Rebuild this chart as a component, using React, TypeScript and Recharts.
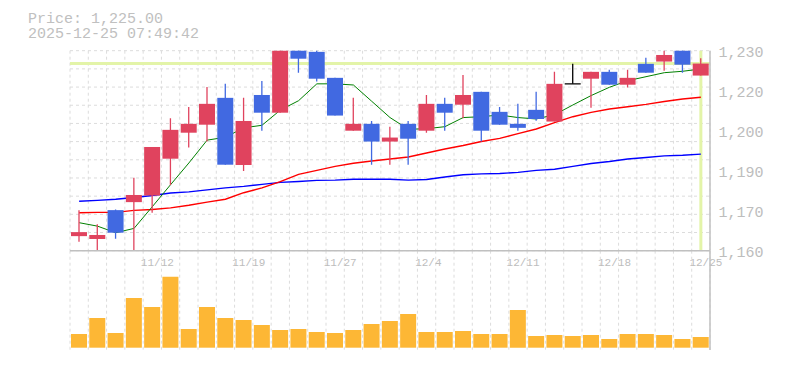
import React from "react";
import { Bar, BarChart, CartesianGrid, ComposedChart, Line, ReferenceLine, XAxis, YAxis } from "recharts";

// trading days shown in the window
const dates = [
  "11/6", "11/7", "11/10", "11/11", "11/12", "11/13", "11/14", "11/17", "11/18", "11/19",
  "11/20", "11/21", "11/25", "11/26", "11/27", "11/28", "12/1", "12/2", "12/3", "12/4",
  "12/5", "12/8", "12/9", "12/10", "12/11", "12/12", "12/15", "12/16", "12/17", "12/18",
  "12/19", "12/22", "12/23", "12/24", "12/25",
];

const opens = [
  1164.6, 1163.6, 1173.7, 1176.5, 1178.8, 1191.7, 1200.8, 1203.6, 1213.0, 1189.5,
  1214.0, 1207.8, 1229.8, 1229.1, 1220.0, 1201.5, 1203.9, 1197.7, 1203.9, 1201.5,
  1210.9, 1210.6, 1215.1, 1208.1, 1203.9, 1208.8, 1204.7, 1217.9, 1219.7, 1222.1,
  1217.6, 1224.9, 1225.7, 1230.8, 1220.8,
];
const highs = [
  1173.7, 1168.8, 1173.9, 1185.0, 1195.8, 1205.9, 1209.8, 1216.8, 1217.9, 1213.0,
  1218.9, 1229.8, 1229.8, 1229.7, 1220.0, 1213.0, 1204.9, 1202.9, 1204.9, 1214.0,
  1213.0, 1221.0, 1215.1, 1209.8, 1210.9, 1215.1, 1222.1, 1224.9, 1222.1, 1222.8,
  1222.8, 1227.0, 1229.8, 1230.8, 1226.9,
];
const lows = [
  1162.6, 1159.5, 1163.7, 1159.5, 1172.8, 1182.5, 1195.6, 1197.7, 1189.6, 1187.4,
  1201.5, 1207.8, 1221.8, 1218.7, 1206.8, 1201.5, 1189.6, 1189.6, 1189.6, 1200.8,
  1201.5, 1205.9, 1197.7, 1203.6, 1201.5, 1205.0, 1204.7, 1217.9, 1209.5, 1217.6,
  1216.6, 1221.8, 1222.5, 1221.8, 1220.8,
];
const closes = [
  1166.0, 1165.0, 1165.8, 1179.0, 1195.8, 1201.8, 1203.9, 1210.9, 1189.6, 1204.9,
  1207.8, 1229.8, 1226.7, 1219.7, 1206.8, 1203.9, 1197.7, 1199.1, 1198.7, 1210.9,
  1207.8, 1214.0, 1201.5, 1203.6, 1202.5, 1205.6, 1217.9, 1217.9, 1222.1, 1217.6,
  1220.0, 1221.8, 1228.0, 1224.6, 1225.0,
];

// moving averages (short / mid / long)
const ma5 = [
  1169.3, 1168.1, 1165.8, 1167.3, 1174.9, 1182.6, 1190.2, 1198.2, 1199.2, 1202.5,
  1203.4, 1208.7, 1212.0, 1217.9, 1217.9, 1217.5, 1211.8, 1206.1, 1202.0, 1202.2,
  1202.9, 1206.1, 1206.4, 1207.0, 1206.1, 1205.6, 1207.1, 1210.5, 1213.8, 1216.7,
  1219.0, 1220.4, 1221.8, 1222.3, 1223.1,
];
const ma25 = [
  1172.8, 1172.9, 1172.9, 1173.6, 1173.9, 1174.5, 1175.4, 1176.5, 1177.5, 1179.8,
  1181.5, 1183.7, 1186.2, 1187.6, 1189.0, 1190.1, 1190.9, 1191.6, 1192.3, 1193.7,
  1195.1, 1196.3, 1197.7, 1198.8, 1200.5, 1202.1, 1204.3, 1206.4, 1207.9, 1209.1,
  1209.9, 1210.7, 1211.7, 1212.6, 1213.2,
];
const ma75 = [
  1176.8, 1177.1, 1177.5, 1178.1, 1178.8, 1179.7, 1180.1, 1180.8, 1181.5, 1182.0,
  1182.7, 1183.4, 1183.7, 1184.1, 1184.2, 1184.5, 1184.5, 1184.5, 1184.2, 1184.4,
  1185.3, 1186.1, 1186.4, 1186.5, 1186.9, 1187.6, 1188.0, 1189.0, 1190.0, 1190.7,
  1191.6, 1192.1, 1192.7, 1192.9, 1193.3,
];

const volumes = [
  137, 297, 147, 497, 407, 710, 187, 407, 297, 277,
  227, 177, 187, 157, 147, 177, 237, 267, 337, 157,
  157, 167, 137, 137, 377, 117, 127, 117, 127, 87,
  137, 137, 127, 87, 107,
];

const xTicks = ["11/12", "11/19", "11/27", "12/4", "12/11", "12/18", "12/25"];
const priceTicks = [1159.5, 1173.5, 1187.5, 1201.5, 1215.5, 1229.5];
const priceDomain = [1159.5, 1229.5];
const volumeDomain = [-23, 970];

const lastClose = closes[closes.length - 1];
const lastDate = dates[dates.length - 1];

// layout
const W = 785;
const PLOT_L = 70;
const PLOT_R = 710;
const PLOT_T = 50.7;
const PLOT_B = 250.7;
const VOL_B = 350;
const BAND = (PLOT_R - PLOT_L) / dates.length;

const FONT = "'Liberation Mono', 'DejaVu Sans Mono', monospace";
const UP = "#E0435E";
const DOWN = "#4169E1";
const LIME = "#E3F4A8";
const GRID = "#dcdcdc";
const AXIS = "#c0c0c0";

const rows = dates.map((date, i) => ({
  date,
  open: opens[i],
  high: highs[i],
  low: lows[i],
  close: closes[i],
  ma5: ma5[i],
  ma25: ma25[i],
  ma75: ma75[i],
  volume: volumes[i],
}));

const verticalPoints = Array.from({ length: dates.length + 1 }, (_, i) => PLOT_L + i * BAND);
const horizontalPoints = Array.from({ length: 12 }, (_, i) => PLOT_T + (i * (PLOT_B - PLOT_T)) / 11);

const formatPrice = (v: number) => (Math.round(v / 10) * 10).toLocaleString("en-US");

const Candle = (props: any) => {
  const { x, y, width, height, payload } = props;
  if (!payload) return null;
  const top = Math.min(y, y + height);
  const h = Math.abs(height);
  const range = payload.high - payload.low;
  const ppu = range > 0 ? h / range : 0;
  const toY = (v: number) => top + (payload.high - v) * ppu;
  const cx = x + width / 2;
  const yo = toY(payload.open);
  const yc = toY(payload.close);
  const color = payload.close > payload.open ? UP : payload.close < payload.open ? DOWN : "#000";
  return (
    <g>
      <line x1={cx} x2={cx} y1={top} y2={top + h} stroke={color} strokeWidth={1.3} />
      {yo === yc ? (
        <line x1={x} x2={x + width} y1={yo} y2={yo} stroke={color} strokeWidth={1.3} />
      ) : (
        <rect x={x} y={Math.min(yo, yc)} width={width} height={Math.abs(yo - yc)} fill={color} />
      )}
    </g>
  );
};

const XTick = (props: any) => {
  const { x, y, payload } = props;
  return (
    <text x={x - BAND / 2 - 2.3} y={y + 15.2} fill="#bdbdbd" fontSize={11} fontFamily={FONT}>
      {payload.value}
    </text>
  );
};

const YTick = (props: any) => {
  const { x, y, payload } = props;
  return (
    <text x={x + 8.5} y={y + 6.5} fill="#bdbdbd" fontSize={15} fontFamily={FONT}>
      {formatPrice(payload.value)}
    </text>
  );
};

export default function App() {
  return (
    <div style={{ position: "absolute", left: 0, top: 0, width: W, height: 370, background: "#fff" }}>
      <svg width={W} height={45} style={{ position: "absolute", left: 0, top: 0 }}>
        <text x={28} y={22.7} fill="#c0c0c0" fontSize={15} fontFamily={FONT}>
          Price: {lastClose.toLocaleString("en-US", { minimumFractionDigits: 2 })}
        </text>
        <text x={28} y={38.3} fill="#c0c0c0" fontSize={15} fontFamily={FONT}>
          2025-12-25 07:49:42
        </text>
      </svg>

      <div style={{ position: "absolute", left: 0, top: 0 }}>
        <BarChart
          width={W}
          height={370}
          data={rows}
          margin={{ top: PLOT_B, right: 0, bottom: 370 - VOL_B, left: PLOT_L }}
          barSize={16}
        >
          <CartesianGrid horizontal={false} verticalPoints={verticalPoints} stroke={GRID} strokeDasharray="3 3" />
          <XAxis dataKey="date" tick={false} tickLine={false} height={0} axisLine={{ stroke: AXIS, strokeWidth: 1.5 }} />
          <YAxis
            orientation="right"
            width={W - PLOT_R}
            domain={volumeDomain}
            allowDataOverflow
            tick={false}
            tickLine={false}
            axisLine={{ stroke: AXIS, strokeWidth: 1.5 }}
          />
          <Bar dataKey="volume" fill="#FDB735" isAnimationActive={false} />
        </BarChart>
      </div>

      <div style={{ position: "absolute", left: 0, top: 0 }}>
        <ComposedChart
          width={W}
          height={280}
          data={rows}
          margin={{ top: PLOT_T, right: 0, bottom: 0, left: PLOT_L }}
          barSize={16}
        >
          <CartesianGrid
            verticalPoints={verticalPoints}
            horizontalPoints={horizontalPoints}
            stroke={GRID}
            strokeDasharray="3 3"
          />
          <XAxis
            dataKey="date"
            ticks={xTicks}
            interval={0}
            tick={<XTick />}
            tickLine={false}
            tickSize={0}
            tickMargin={0}
            height={280 - PLOT_B}
            axisLine={{ stroke: AXIS, strokeWidth: 1.5 }}
          />
          <YAxis
            orientation="right"
            width={W - PLOT_R}
            domain={priceDomain}
            ticks={priceTicks}
            allowDataOverflow
            interval={0}
            tick={<YTick />}
            tickLine={false}
            tickSize={0}
            tickMargin={0}
            axisLine={{ stroke: AXIS, strokeWidth: 1.5 }}
          />
          <ReferenceLine y={lastClose} stroke={LIME} strokeWidth={3} zIndex={100} />
          <ReferenceLine x={lastDate} stroke={LIME} strokeWidth={3} zIndex={100} />
          <Line dataKey="ma75" type="linear" stroke="#0000FF" strokeWidth={1.4} dot={false} activeDot={false} isAnimationActive={false} />
          <Line dataKey="ma25" type="linear" stroke="#FF0000" strokeWidth={1.4} dot={false} activeDot={false} isAnimationActive={false} />
          <Line dataKey="ma5" type="linear" stroke="#008000" strokeWidth={1} dot={false} activeDot={false} isAnimationActive={false} />
          <Bar
            dataKey={(d: any) => [d.low, d.high]}
            shape={<Candle />}
            isAnimationActive={false}
            zIndex={450}
          />
        </ComposedChart>
      </div>
    </div>
  );
}
